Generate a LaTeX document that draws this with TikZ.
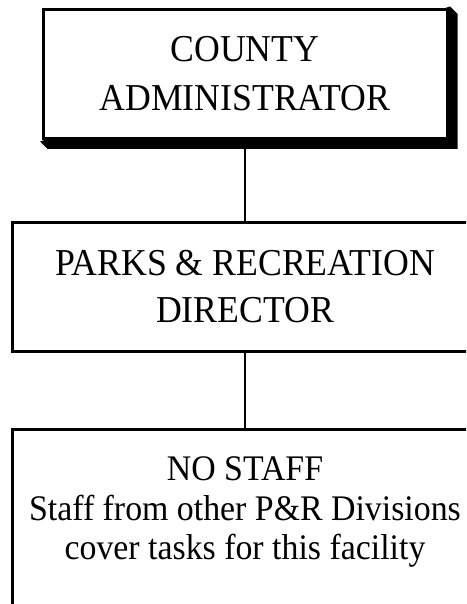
\documentclass[tikz,border=0pt]{standalone}
\usepackage{fontspec}
\setmainfont{Liberation Serif}[FakeStretch=0.94]
\usetikzlibrary{backgrounds}
\begin{document}
\begin{tikzpicture}[x=1pt,y=-1pt,
  orgbox/.style={draw, line width=3pt, fill=white, rectangle, inner sep=0pt, align=center},
  orgtext/.style={inner sep=0pt, align=center},
  link/.style={line width=2pt}]
\useasboundingbox (0,0) rectangle (466,604);
\clip (0,0) rectangle (466,604);

% top: county administrator, with a raised (extruded) shadow
\node[orgbox, minimum width=404pt, minimum height=129pt,
      font=\fontsize{38}{49}\selectfont] (admin) at (245,74) {COUNTY\\ADMINISTRATOR};
\begin{scope}[on background layer]
  \fill ([xshift=1.5pt,yshift=1.5pt]admin.north east)
     -- ([xshift=9pt,yshift=-6pt]admin.north east)
     -- ([xshift=9pt,yshift=-9pt]admin.south east)
     -- ([xshift=6pt,yshift=-9pt]admin.south west)
     -- ([xshift=-1.5pt,yshift=-1.5pt]admin.south west) -- cycle;
\end{scope}

% middle: director
\node[orgbox, minimum width=465pt, minimum height=129pt,
      font=\fontsize{38}{47}\selectfont] (director) at (245,287) {PARKS \& RECREATION\\DIRECTOR};

% bottom: facility staffing, running off the page
\node[orgbox, anchor=north, minimum width=465pt, minimum height=250pt] (facility) at (245,427.5) {};
\node[orgtext, anchor=north, font=\fontsize{36}{39.5}\selectfont] (facilitytext)
  at ([yshift=-29pt]facility.north) {NO STAFF\\Staff from other P\&R Divisions\\cover tasks for this facility};

% connectors
\draw[link] (admin.south) -- (director.north);
\draw[link] (director.south) -- (facility.north);
\end{tikzpicture}
\end{document}
